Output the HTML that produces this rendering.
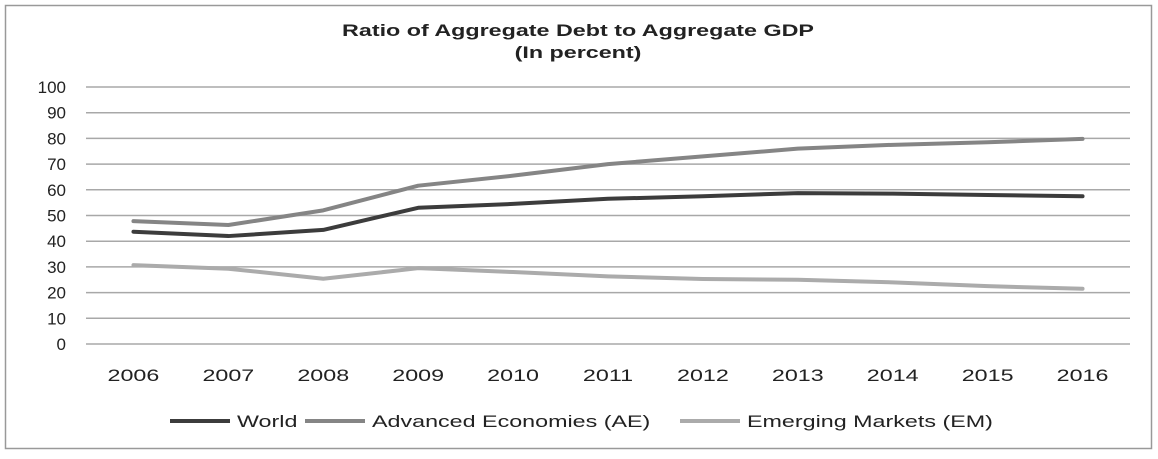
<!DOCTYPE html>
<html><head><meta charset="utf-8"><style>
body{margin:0;background:#fff;width:1158px;height:454px;overflow:hidden;font-family:"Liberation Sans",Arial,sans-serif}
</style></head><body>
<svg id="chart" width="1158" height="454" xmlns="http://www.w3.org/2000/svg" font-family="Liberation Sans, Arial, sans-serif">
<rect x="5.5" y="5.5" width="1146" height="443" fill="#fff" stroke="#999" stroke-width="1.5"/>
<text class="wide" x="578" y="36" text-anchor="middle" font-size="17" font-weight="bold" fill="#222">Ratio of Aggregate Debt to Aggregate GDP</text>
<text class="wide" x="578" y="58" text-anchor="middle" font-size="17" font-weight="bold" fill="#222">(In percent)</text>
<g id="grid"></g><g id="series"></g><g id="axes"></g><g id="legend"></g>
</svg>
<script>
const categories=["2006","2007","2008","2009","2010","2011","2012","2013","2014","2015","2016"];
const yTicks=[0,10,20,30,40,50,60,70,80,90,100];
const world=[43.7,42,44.4,53,54.5,56.5,57.5,58.7,58.5,58,57.5];
const advanced=[47.8,46.3,52,61.6,65.5,70,73,76,77.5,78.5,79.8];
const emerging=[30.7,29.3,25.4,29.5,28,26.3,25.3,25,24,22.5,21.5];
const seriesNames=["World","Advanced Economies (AE)","Emerging Markets (EM)"];
const ns="http://www.w3.org/2000/svg";
const L=86,R=1130,T=87,B=344;
const step=(R-L)/categories.length;
const x=i=>L+step*(i+0.5);
const y=v=>B-(v/100)*(B-T);
function mk(t,a,p){const e=document.createElementNS(ns,t);for(const k in a)e.setAttribute(k,a[k]);p.appendChild(e);return e;}
const grid=document.getElementById('grid'),axes=document.getElementById('axes'),ser=document.getElementById('series'),leg=document.getElementById('legend');
yTicks.forEach(v=>{
 const l=mk('line',{x1:L,x2:R,y1:y(v),y2:y(v),stroke:'#a8a8a8','stroke-width':1.5},grid);
 
 
 const t=mk('text',{x:66,y:y(v)+6,'text-anchor':'end','font-size':17,fill:'#222'},axes);
 t.textContent=v;
 
 
});
categories.forEach((c,i)=>{
 const t=mk('text',{x:x(i),y:381,'text-anchor':'middle','font-size':17,fill:'#222',class:'wide'},axes);
 t.textContent=c;
 
 
});
const data=[world,advanced,emerging],colors=['#3c3c3c','#858585','#ababab'];
data.forEach((d,s)=>{
 const p=mk('polyline',{points:d.map((v,i)=>x(i)+','+y(v)).join(' '),fill:'none',stroke:colors[s],'stroke-width':4,'stroke-linejoin':'round','stroke-linecap':'round'},ser);
 
 
});
const lx=[170,305,680];
seriesNames.forEach((n,s)=>{
 const g=mk('g',{},leg);
 
 
 mk('line',{x1:lx[s],x2:lx[s]+60,y1:421,y2:421,stroke:colors[s],'stroke-width':4},g);
 const t=mk('text',{x:lx[s]+67,y:427,'font-size':17,fill:'#222',class:'wide'},g);
 t.textContent=n;
});
document.querySelectorAll('text.wide').forEach(t=>{
 const w=t.getComputedTextLength();
 t.setAttribute('textLength',(w*1.37).toFixed(1));
 t.setAttribute('lengthAdjust','spacingAndGlyphs');
});
</script>
</body></html>
